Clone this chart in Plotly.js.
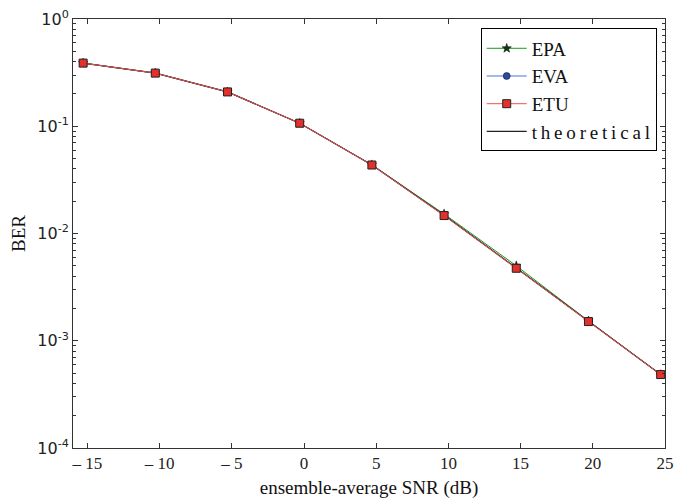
<!DOCTYPE html>
<html>
<head>
<meta charset="utf-8">
<script src="https://cdn.plot.ly/plotly-3.0.1.min.js"></script>
<style>body{margin:0;padding:0;background:#fff}</style>
</head>
<body>
<div id="chart" style="width:675px;height:500px"></div>
<script>
const snr = [-15.3, -10.3, -5.3, -0.3, 4.7, 9.7, 14.7, 19.7, 24.7];
const berEPA = [0.388, 0.313, 0.209, 0.1067, 0.0437, 0.0152, 0.00500, 0.00153, 0.000484];
const berEVA = [0.388, 0.313, 0.209, 0.1067, 0.0436, 0.0149, 0.00478, 0.00152, 0.000484];
const berETU = [0.388, 0.313, 0.209, 0.1067, 0.0435, 0.0147, 0.00474, 0.00151, 0.000484];
const berTheory = [0.388, 0.313, 0.209, 0.1067, 0.0436, 0.0148, 0.00476, 0.00152, 0.000484];
const xTickVals = [-15, -10, -5, 0, 5, 10, 15, 20, 25];
const xTickText = ['– 15', '– 10', '– 5', '0', '5', '10', '15', '20', '25'];
const yTickVals = [1, 0.1, 0.01, 0.001, 0.0001];
const yTickText = ['10<sup>0</sup>', '10<sup>-1</sup>', '10<sup>-2</sup>', '10<sup>-3</sup>', '10<sup>-4</sup>'];
const seriesNames = ['EPA', 'EVA', 'ETU', 't\u2009h\u2009e\u2009o\u2009r\u2009e\u2009t\u2009i\u2009c\u2009a\u2009l'];

// minor tick positions (2..9 in each decade)
const minorVals = [];
for (let d = -4; d < 0; d++) for (let m = 2; m <= 9; m++) minorVals.push(m * Math.pow(10, d));

const traces = [
  {x: snr, y: berEPA, name: seriesNames[0], mode: 'lines+markers', legendrank: 1,
   line: {color: '#1a9a1a', width: 1}, marker: {symbol: 'star', size: 7, color: '#0b3d0b', line: {color: '#000', width: 0.5}}},
  {x: snr, y: berEVA, name: seriesNames[1], mode: 'lines+markers', legendrank: 2,
   line: {color: '#4d6fd6', width: 1}, marker: {symbol: 'circle', size: 7, color: '#2b4aa8', line: {color: '#000', width: 0.5}}},
  {x: snr, y: berTheory, name: seriesNames[3], mode: 'lines', legendrank: 4,
   line: {color: '#222', width: 1.2}},
  {x: snr, y: berETU, name: seriesNames[2], mode: 'lines+markers', legendrank: 3,
   line: {color: '#f05050', width: 1}, marker: {symbol: 'square', size: 8, color: '#e3302a', line: {color: '#222', width: 1}}}
];

const layout = {
  width: 675, height: 500,
  margin: {l: 73, r: 10, t: 19, b: 52},
  paper_bgcolor: '#fff', plot_bgcolor: '#fff',
  showlegend: true,
  legend: {x: 0.986, xanchor: 'right', y: 0.978, yanchor: 'top',
    bordercolor: '#000', borderwidth: 1, bgcolor: '#fff',
    font: {family: 'Liberation Serif', size: 19, color: '#111'}, tracegroupgap: 0, itemwidth: 40},
  xaxis: {
    range: [-16, 25], tickvals: xTickVals, ticktext: xTickText,
    ticks: 'inside', ticklen: 5, tickcolor: '#333', showgrid: false, zeroline: false,
    showline: true, linecolor: '#333', linewidth: 1, mirror: 'ticks',
    tickfont: {family: 'Liberation Serif', size: 17, color: '#222'},
    title: {text: 'ensemble-average SNR (dB)', font: {family: 'Liberation Serif', size: 19, color: '#111'}, standoff: 8}
  },
  yaxis: {
    type: 'log', range: [-4, 0], tickvals: yTickVals, ticktext: yTickText,
    ticks: 'inside', ticklen: 5, tickcolor: '#333', showgrid: false, zeroline: false,
    showline: true, linecolor: '#333', linewidth: 1, mirror: 'ticks',
    minor: {tickmode: 'array', tickvals: minorVals, ticks: 'inside', ticklen: 3, tickcolor: '#333', showgrid: false},
    tickfont: {family: 'DejaVu Sans', size: 16, color: '#222'},
    title: {text: 'BER', font: {family: 'Liberation Serif', size: 19, color: '#111'}, standoff: 6}
  }
};

Plotly.newPlot('chart', traces, layout, {displayModeBar: false, staticPlot: true});
</script>
</body>
</html>
